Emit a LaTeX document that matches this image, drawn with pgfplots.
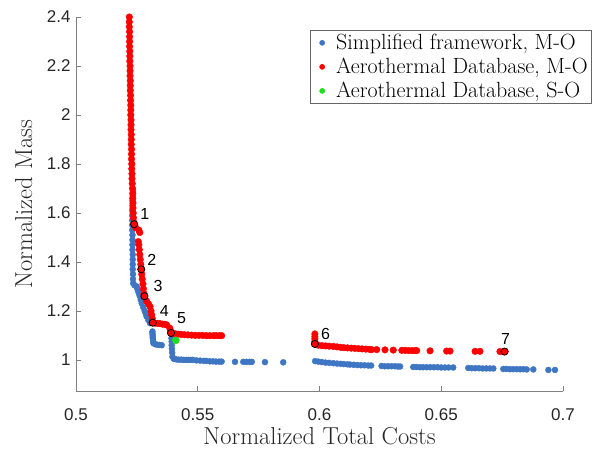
\documentclass[border=0pt]{standalone}
\usepackage{pgfplots}
\pgfplotsset{compat=1.18}
\usepackage{pgfplotstable}
\usepackage{fontspec}
\newfontfamily\arialfont{Liberation Sans}

\definecolor{simpblue}{RGB}{62,118,196}
\definecolor{aerored}{RGB}{255,0,0}
\definecolor{sogreen}{RGB}{30,222,30}
\definecolor{axisgrey}{RGB}{128,128,128}
\definecolor{ticktext}{RGB}{38,38,38}

% Simplified framework, multi-objective front
\pgfplotstableread{
x y
0.5234 1.690
0.5233 1.670
0.5232 1.650
0.5232 1.630
0.5231 1.610
0.5231 1.590
0.5231 1.570
0.5231 1.550
0.5231 1.530
0.5232 1.510
0.5232 1.490
0.5232 1.470
0.5232 1.450
0.5233 1.430
0.5233 1.410
0.5233 1.390
0.5233 1.370
0.5234 1.350
0.5234 1.330
0.5235 1.313
0.5240 1.305
0.5249 1.300
0.5252 1.290
0.5255 1.280
0.5259 1.270
0.5262 1.260
0.5266 1.245
0.5270 1.231
0.5276 1.215
0.5282 1.200
0.5286 1.190
0.5290 1.177
0.5297 1.163
0.5304 1.150
0.5314 1.116
0.5314 1.108
0.5315 1.100
0.5315 1.092
0.5316 1.085
0.5317 1.076
0.5318 1.068
0.5325 1.064
0.5333 1.062
0.5342 1.061
0.5352 1.060
0.5392 1.088
0.5393 1.075
0.5393 1.060
0.5394 1.045
0.5395 1.030
0.5396 1.013
0.5402 1.004
0.5412 1.002
0.5422 1.001
0.5432 1.001
0.5442 1.000
0.5452 1.000
0.5462 1.000
0.5472 1.000
0.5480 1.000
0.5495 0.998
0.5510 0.997
0.5525 0.996
0.5535 0.996
0.5550 0.994
0.5563 0.994
0.5575 0.993
0.5588 0.993
0.5598 0.993
0.5653 0.992
0.5687 0.992
0.5700 0.992
0.5712 0.992
0.5722 0.992
0.5776 0.991
0.5851 0.990
0.5982 0.995
0.5995 0.993
0.6010 0.991
0.6025 0.989
0.6040 0.988
0.6057 0.9865
0.6072 0.985
0.6087 0.984
0.6100 0.983
0.6115 0.982
0.6125 0.981
0.6140 0.980
0.6155 0.979
0.6170 0.978
0.6185 0.978
0.6200 0.977
0.6212 0.977
0.6255 0.975
0.6268 0.974
0.6282 0.974
0.6296 0.974
0.6310 0.974
0.6322 0.973
0.6331 0.973
0.6385 0.971
0.6398 0.971
0.6412 0.970
0.6425 0.970
0.6440 0.970
0.6455 0.970
0.6470 0.970
0.6485 0.970
0.6500 0.969
0.6515 0.969
0.6530 0.969
0.6549 0.969
0.6611 0.967
0.6625 0.966
0.6640 0.966
0.6655 0.966
0.6670 0.965
0.6685 0.965
0.6700 0.965
0.6714 0.965
0.6755 0.963
0.6768 0.963
0.6782 0.962
0.6796 0.962
0.6810 0.962
0.6824 0.962
0.6838 0.962
0.6851 0.961
0.6878 0.961
0.6940 0.959
0.6967 0.959
}\simplified

% Aerothermal database, multi-objective front
\pgfplotstableread{
x y
0.5219 2.40
0.5219 2.38
0.5219 2.36
0.5220 2.34
0.5220 2.32
0.5220 2.30
0.5220 2.28
0.5221 2.26
0.5221 2.24
0.5221 2.22
0.5222 2.20
0.5222 2.18
0.5222 2.16
0.5223 2.14
0.5223 2.12
0.5223 2.10
0.5224 2.08
0.5224 2.06
0.5225 2.04
0.5225 2.02
0.5225 2.00
0.5226 1.98
0.5226 1.96
0.5226 1.94
0.5227 1.92
0.5227 1.90
0.5227 1.88
0.5228 1.86
0.5228 1.84
0.5228 1.82
0.5229 1.80
0.5229 1.78
0.5230 1.76
0.5230 1.74
0.5231 1.72
0.5232 1.70
0.5233 1.68
0.5233 1.66
0.5234 1.64
0.5234 1.62
0.5235 1.60
0.5236 1.58
0.5238 1.56
0.5245 1.54
0.5258 1.53
0.5262 1.52
0.5256 1.483
0.5258 1.47
0.5260 1.45
0.5262 1.43
0.5264 1.41
0.5266 1.39
0.5268 1.37
0.5270 1.35
0.5272 1.33
0.5275 1.31
0.5277 1.29
0.5279 1.27
0.5281 1.26
0.5290 1.24
0.5298 1.228
0.5304 1.218
0.5308 1.20
0.5311 1.184
0.5313 1.17
0.5315 1.152
0.5325 1.150
0.5335 1.149
0.5345 1.148
0.5355 1.146
0.5365 1.145
0.5372 1.143
0.5385 1.13
0.5388 1.12
0.5390 1.11
0.5400 1.108
0.5410 1.106
0.5420 1.105
0.5432 1.104
0.5445 1.103
0.5460 1.102
0.5475 1.101
0.5490 1.100
0.5505 1.100
0.5520 1.100
0.5535 1.099
0.5550 1.099
0.5565 1.099
0.5575 1.099
0.5588 1.099
0.5598 1.099
0.5981 1.106
0.5981 1.095
0.5981 1.085
0.5981 1.075
0.5981 1.065
0.5995 1.060
0.6010 1.058
0.6025 1.057
0.6040 1.056
0.6057 1.055
0.6072 1.053
0.6087 1.051
0.6100 1.050
0.6115 1.049
0.6130 1.048
0.6145 1.047
0.6160 1.046
0.6175 1.045
0.6190 1.044
0.6205 1.043
0.6214 1.042
0.6235 1.042
0.6269 1.041
0.6303 1.040
0.6338 1.039
0.6352 1.039
0.6366 1.038
0.6380 1.038
0.6392 1.038
0.6399 1.038
0.6454 1.037
0.6522 1.036
0.6536 1.036
0.6639 1.035
0.6659 1.035
0.6741 1.034
0.6762 1.034
}\aerothermal

% Selected designs on the aerothermal front
\pgfplotstableread{
x y
0.5239 1.554
0.5268 1.370
0.5281 1.260
0.5315 1.152
0.5390 1.110
0.5981 1.065
0.6760 1.034
}\selected

\begin{document}
\begin{tikzpicture}
\useasboundingbox (0,0) rectangle (598pt,448pt);
\begin{axis}[
  at={(76pt,57pt)}, anchor=south west,
  scale only axis, width=487pt, height=374pt,
  xmin=0.5, xmax=0.7, ymin=0.873, ymax=2.4,
  axis lines=left,
  axis line style={draw=axisgrey, line width=0.6pt, -},
  tick align=inside,
  major tick length=5pt,
  tick style={draw=axisgrey, line width=0.6pt},
  xtick={0.5,0.55,0.6,0.65,0.7},
  ytick={1,1.2,1.4,1.6,1.8,2,2.2,2.4},
  /pgf/number format/assume math mode=true,
  ticklabel style={font=\arialfont\fontsize{17}{20}\selectfont, text=ticktext},
  xticklabel style={yshift=-14.5pt, /pgf/number format/.cd, fixed, precision=2},
  yticklabel style={xshift=-2pt, /pgf/number format/.cd, fixed, precision=1},
  xlabel={Normalized Total Costs},
  ylabel={Normalized Mass},
  label style={font=\fontsize{24.5}{28}\selectfont, text=ticktext},
  xlabel style={at={(axis description cs:0.5,-0.1430)}, anchor=base, inner sep=0pt},
  ylabel style={at={(axis description cs:-0.0903,0.5)}, anchor=base},
  legend style={at={(axis description cs:1.0595,0.965)}, anchor=north east,
    draw=black!60, line width=0.6pt,
    font=\fontsize{22}{24}\selectfont,
    inner xsep=2pt, inner ysep=2pt, row sep=3pt},
  legend cell align=left,
  legend image code/.code={%
    \path[draw=none, fill=none] (0pt,0pt) -- (22pt,0pt);
    \draw[#1, mark size=2.5pt] plot coordinates {(10pt,0pt)};},
  clip=false,
]
\addplot[only marks, mark=*, mark size=3pt,
  mark options={fill=simpblue, draw=simpblue}] table {\simplified};
\addlegendentry{Simplified framework, M-O}
\addplot[only marks, mark=*, mark size=3.3pt,
  mark options={fill=aerored, draw=aerored}] table {\aerothermal};
\addlegendentry{Aerothermal Database, M-O}
\addplot[only marks, mark=*, mark size=3.6pt,
  mark options={fill=sogreen, draw=sogreen}] coordinates {(0.5410,1.080)};
\addlegendentry{Aerothermal Database, S-O}
\addplot[only marks, mark=*, mark size=3.6pt, forget plot,
  mark options={fill=aerored, draw=black, line width=0.8pt}] table {\selected};

\begin{scope}[every node/.style={font=\arialfont\fontsize{16}{18}\selectfont, inner sep=0pt}]
\node[anchor=south west] at ([xshift=6pt,yshift=5pt]axis cs:0.5239,1.554) {1};
\node[anchor=south west] at ([xshift=6pt,yshift=4pt]axis cs:0.5268,1.370) {2};
\node[anchor=south west] at ([xshift=9pt,yshift=4pt]axis cs:0.5281,1.260) {3};
\node[anchor=south west] at ([xshift=7pt,yshift=6pt]axis cs:0.5315,1.152) {4};
\node[anchor=south west] at ([xshift=6pt,yshift=9pt]axis cs:0.5390,1.110) {5};
\node[anchor=south west] at ([xshift=6pt,yshift=4pt]axis cs:0.5981,1.065) {6};
\node[anchor=south] at ([xshift=1pt,yshift=7pt]axis cs:0.6760,1.034) {7};
\end{scope}
\end{axis}
\end{tikzpicture}
\end{document}
